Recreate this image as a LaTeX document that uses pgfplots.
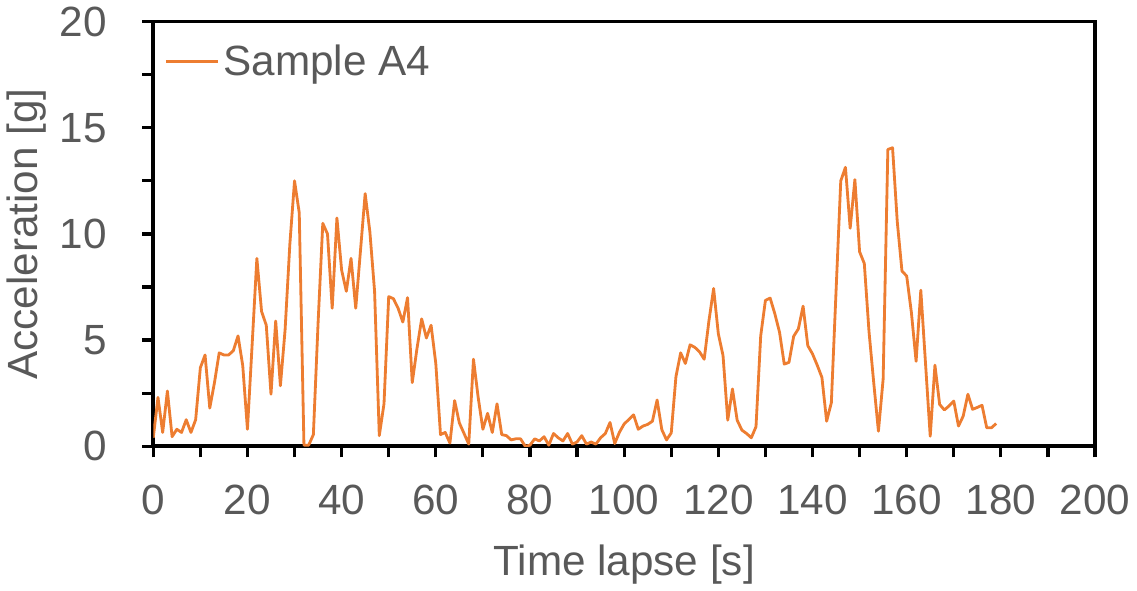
\documentclass[border=0pt]{standalone}
\usepackage{fontspec}
\setmainfont{Liberation Sans}
\usepackage{pgfplots}
\pgfplotsset{compat=1.18}
\definecolor{txtgray}{HTML}{595959}
\definecolor{sorange}{HTML}{ED7D31}
\begin{document}
\begin{tikzpicture}
\begin{axis}[
    scale only axis,
    width=468pt, height=211pt,
    xmin=0, xmax=200, ymin=0, ymax=20,
    xtick={0,20,...,200},
    minor xtick={10,30,...,190},
    ytick={0,5,...,20},
    minor ytick={2.5,7.5,...,17.5},
    tick align=outside,
    tick pos=left,
    major tick length=5.5pt,
    minor tick length=5.5pt,
    every tick/.style={black, line width=1.6pt},
    axis line style={black, line width=1.8pt},
    /pgf/number format/assume math mode=true,
    tick label style={font=\fontsize{21}{25}\selectfont, text=txtgray},
    xticklabel style={yshift=-10pt},
    yticklabel style={xshift=-14pt},
    label style={font=\fontsize{21}{25}\selectfont, text=txtgray},
    xlabel={Time lapse [s]},
    ylabel={Acceleration [g]},
    xlabel style={yshift=-8pt},
    ylabel style={yshift=0pt},
    legend style={draw=none, fill=none, at={(0.005,0.965)}, anchor=north west,
      font=\fontsize{21}{25}\selectfont, text=txtgray},
    legend image code/.code={\draw[#1] (0pt,0pt) -- (26pt,0pt);},
    legend cell align=left,
]
\addplot[sorange, line width=1.4pt, line join=round] coordinates {
(0,0.4) (1,2.3) (2,0.65) (3,2.6) (4,0.45) (5,0.8) (6,0.65) (7,1.25) (8,0.65) (9,1.25)
(10,3.7) (11,4.3) (12,1.8) (13,3.0) (14,4.4) (15,4.3) (16,4.3) (17,4.5) (18,5.2) (19,3.8)
(20,0.8) (21,4.8) (22,8.85) (23,6.35) (24,5.7) (25,2.45) (26,5.9) (27,2.85) (28,5.5) (29,9.5)
(30,12.5) (31,11.0) (32,0.05) (33,0.05) (34,0.55) (35,5.8) (36,10.5) (37,10.0) (38,6.5) (39,10.75)
(40,8.3) (41,7.3) (42,8.85) (43,6.5) (44,9.2) (45,11.9) (46,10.1) (47,7.3) (48,0.5) (49,2.0)
(50,7.05) (51,6.95) (52,6.5) (53,5.85) (54,7.0) (55,3.0) (56,4.6) (57,6.0) (58,5.1) (59,5.7)
(60,3.9) (61,0.55) (62,0.65) (63,0.15) (64,2.15) (65,1.1) (66,0.6) (67,0.1) (68,4.1) (69,2.3)
(70,0.8) (71,1.55) (72,0.65) (73,2.0) (74,0.55) (75,0.5) (76,0.3) (77,0.35) (78,0.35) (79,0.0)
(80,0.05) (81,0.35) (82,0.25) (83,0.45) (84,0.05) (85,0.6) (86,0.4) (87,0.25) (88,0.6) (89,0.1)
(90,0.2) (91,0.5) (92,0.1) (93,0.2) (94,0.1) (95,0.4) (96,0.6) (97,1.12) (98,0.13) (99,0.66)
(100,1.05) (101,1.26) (102,1.48) (103,0.8) (104,0.95) (105,1.03) (106,1.18) (107,2.18) (108,0.78) (109,0.3)
(110,0.63) (111,3.28) (112,4.4) (113,3.9) (114,4.78) (115,4.66) (116,4.45) (117,4.1) (118,5.9) (119,7.43)
(120,5.3) (121,4.27) (122,1.23) (123,2.7) (124,1.23) (125,0.76) (126,0.6) (127,0.4) (128,0.92) (129,5.2)
(130,6.87) (131,6.98) (132,6.24) (133,5.37) (134,3.87) (135,3.95) (136,5.18) (137,5.53) (138,6.6) (139,4.74)
(140,4.35) (141,3.82) (142,3.24) (143,1.18) (144,2.05) (145,7.3) (146,12.5) (147,13.14) (148,10.27) (149,12.56)
(150,9.16) (151,8.61) (152,5.4) (153,3.0) (154,0.71) (155,3.16) (156,13.98) (157,14.06) (158,10.58) (159,8.25)
(160,8.02) (161,6.3) (162,4.0) (163,7.35) (164,3.9) (165,0.47) (166,3.82) (167,1.97) (168,1.71) (169,1.9)
(170,2.13) (171,0.95) (172,1.42) (173,2.45) (174,1.74) (175,1.83) (176,1.93) (177,0.87) (178,0.87) (179,1.07)
};
\addlegendentry{Sample A4}
\end{axis}
\end{tikzpicture}
\end{document}
